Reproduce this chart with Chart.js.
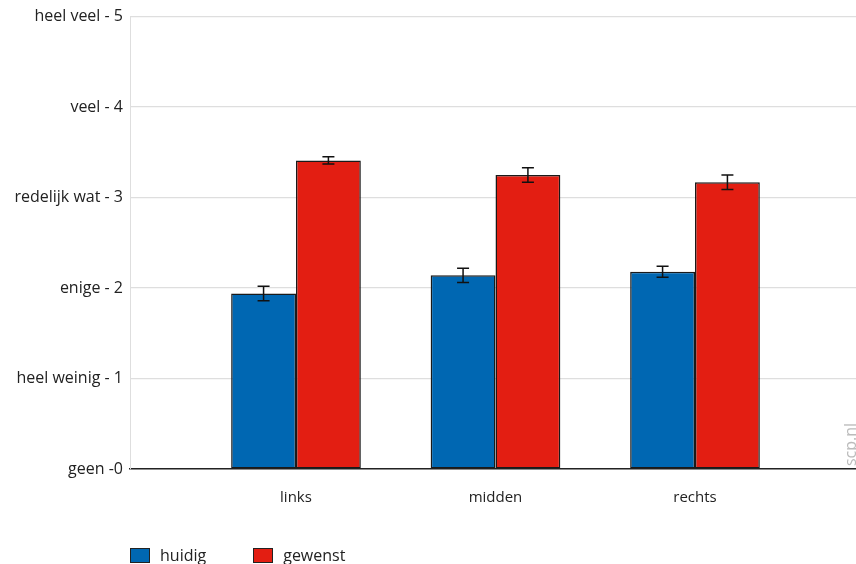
<!DOCTYPE html>
<html>
<head>
<meta charset="utf-8">
<script src="https://cdn.jsdelivr.net/npm/chart.js@4/dist/chart.umd.min.js"></script>
<style>
  body { margin: 0; background: #fff; font-family: "Open Sans", sans-serif; }
  #wrap { position: relative; width: 856px; height: 564px; }
  #legend { position: absolute; left: 130px; top: 544px; display: flex; font-size: 16px; color: #222; }
  #legend span.item { display: flex; align-items: center; margin-right: 47px; }
  #legend span.box { width: 18px; height: 13px; border: 1.5px solid #222; margin-right: 10px; }
</style>
</head>
<body>
<div id="wrap">
  <canvas id="myChart"></canvas>
  <div id="legend"></div>
</div>
<script>
'use strict';
let categories = ['links', 'midden', 'rechts'];
let yLabels = ['geen -0', 'heel weinig - 1', 'enige - 2', 'redelijk wat - 3', 'veel - 4', 'heel veel - 5'];
let seriesNames = ['huidig', 'gewenst'];
let huidig = [1.94, 2.14, 2.18];
let gewenst = [3.41, 3.25, 3.17];
let huidigErr = [0.08, 0.08, 0.06];
let gewenstErr = [0.04, 0.08, 0.08];
let colors = ['#0067b2', '#e31e12'];

function toPoints(values) {
  let points = [];
  for (let i = 0; i < values.length; i++) {
    points.push({ x: i + 1, y: values[i] });
  }
  return points;
}

// error bars drawn from the y scale
let errorBars = {
  id: 'errorBars',
  afterDatasetsDraw(chart) {
    let ctx = chart.ctx;
    let yScale = chart.scales.y;
    let errs = [huidigErr, gewenstErr];
    ctx.save();
    ctx.strokeStyle = '#111';
    ctx.lineWidth = 1.5;
    chart.data.datasets.forEach((ds, d) => {
      let meta = chart.getDatasetMeta(d);
      meta.data.forEach((bar, i) => {
        let v = ds.data[i].y;
        let top = yScale.getPixelForValue(v + errs[d][i]);
        let bottom = yScale.getPixelForValue(v - errs[d][i]);
        ctx.beginPath();
        ctx.moveTo(bar.x, top);
        ctx.lineTo(bar.x, bottom);
        ctx.moveTo(bar.x - 6, top);
        ctx.lineTo(bar.x + 6, top);
        ctx.moveTo(bar.x - 6, bottom);
        ctx.lineTo(bar.x + 6, bottom);
        ctx.stroke();
      });
    });
    ctx.restore();
  }
};

let credit = {
  id: 'credit',
  afterDraw(chart) {
    let ctx = chart.ctx;
    ctx.save();
    ctx.translate(851, 466);
    ctx.rotate(-Math.PI / 2);
    ctx.fillStyle = '#bbb';
    ctx.font = '16px "Open Sans"';
    ctx.textAlign = 'left';
    ctx.textBaseline = 'middle';
    ctx.fillText('scp.nl', 0, 0);
    ctx.restore();
  }
};

let ctx = document.getElementById('myChart').getContext('2d');
let myChart = new Chart(ctx, {
  type: 'bar',
  data: {
    datasets: [{
      label: seriesNames[0],
      data: toPoints(huidig),
      backgroundColor: colors[0],
      borderColor: '#1a1a1a',
      borderWidth: 1.5,
      borderSkipped: false
    }, {
      label: seriesNames[1],
      data: toPoints(gewenst),
      backgroundColor: colors[1],
      borderColor: '#1a1a1a',
      borderWidth: 1.5,
      borderSkipped: false
    }]
  },
  options: {
    responsive: true,
    maintainAspectRatio: false,
    animation: false,
    categoryPercentage: 0.65,
    barPercentage: 1.0,
    layout: { padding: { top: 7, right: 0, bottom: 45, left: 0 } },
    plugins: {
      legend: { display: false },
      tooltip: { enabled: false }
    },
    scales: {
      x: {
        type: 'linear',
        min: 0.168,
        max: 3.807,
        offset: false,
        grid: { display: false, offset: false },
        border: { display: true, color: '#222', width: 1.5 },
        afterBuildTicks: (scale) => {
          scale.ticks = categories.map((c, i) => ({ value: i + 1 }));
        },
        ticks: {
          padding: 12,
          color: '#222',
          font: { family: 'Open Sans', size: 15 },
          callback: (value) => categories[value - 1]
        }
      },
      y: {
        min: 0,
        max: 5,
        afterFit: (scale) => { scale.width = 130; },
        grid: { color: '#dedede', lineWidth: 1.2, drawTicks: false },
        border: { display: true, color: '#dedede' },
        ticks: {
          stepSize: 1,
          padding: 7,
          color: '#222',
          font: { family: 'Open Sans', size: 16 },
          callback: (value) => yLabels[value]
        }
      }
    }
  },
  plugins: [errorBars, credit]
});

// legend below the chart
let legendEl = document.getElementById('legend');
myChart.data.datasets.forEach((ds) => {
  let item = document.createElement('span');
  item.className = 'item';
  let box = document.createElement('span');
  box.className = 'box';
  box.style.background = ds.backgroundColor;
  item.appendChild(box);
  item.appendChild(document.createTextNode(ds.label));
  legendEl.appendChild(item);
});
</script>
</body>
</html>
